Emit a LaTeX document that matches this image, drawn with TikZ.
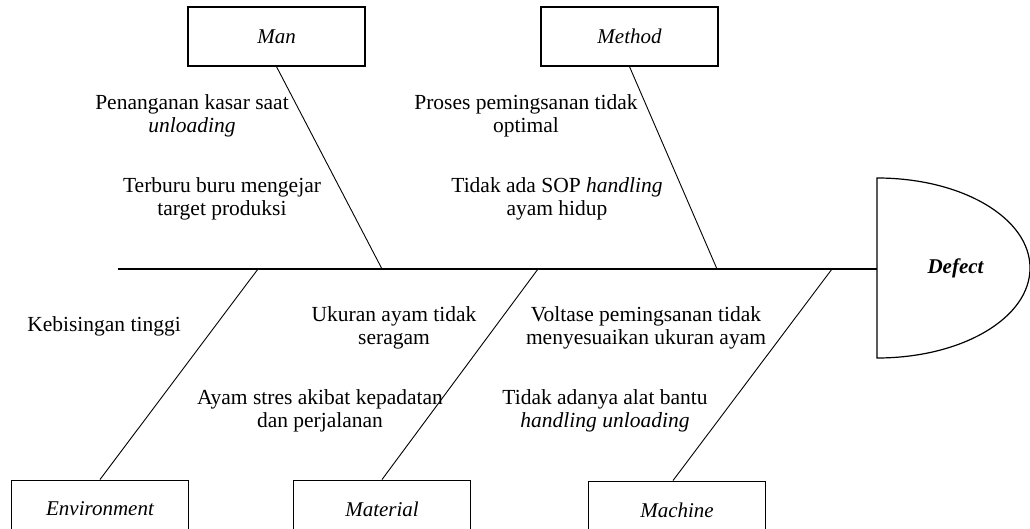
\documentclass[tikz,border=0pt]{standalone}
\usepackage{fontspec}
\setmainfont{Liberation Serif}
\begin{document}
\begin{tikzpicture}[x=1pt,y=-1pt,
  txt/.style={font=\fontsize{21.5}{22.5}\selectfont, align=center, inner sep=0pt},
  topbox/.style={draw, line width=1.3pt, minimum width=177pt, minimum height=59pt, font=\fontsize{21}{22}\selectfont\itshape, inner sep=0pt},
  botbox/.style={draw, line width=0.9pt, minimum width=177pt, minimum height=58pt, font=\fontsize{21}{22}\selectfont\itshape, inner sep=0pt},
  bone/.style={line width=0.9pt},
  spine/.style={line width=1.4pt}]
\useasboundingbox (0,0) rectangle (1030,529);
\clip (0,0) rectangle (1030,529);
% boxes
\node[topbox] (man) at (276.5,36.5) {Man};
\node[topbox] (method) at (629.5,36.5) {Method};
\node[botbox] (env) at (100,509) {Environment};
\node[botbox] (mat) at (382,509) {Material};
\node[botbox] (mach) at (677,510) {Machine};
% spine
\coordinate (tail) at (118,269);
\coordinate (dleft) at (877,269);
\draw[spine] (tail) -- (dleft);
% defect head
\draw[line width=1.2pt] (877,178) .. controls (962,178) and (1030,218) .. (1030,268)
  .. controls (1030,318) and (962,358) .. (877,358) -- cycle;
\node[font=\fontsize{21}{24}\selectfont\bfseries\itshape] (defect) at (955.5,268) {Defect};
% bone joints
\coordinate (jman) at (382,269);
\coordinate (jmet) at (717,269);
\coordinate (jenv) at (258,269);
\coordinate (jmat) at (538,269);
\coordinate (jmac) at (832,269);
\draw[bone] (man.south) -- (jman);
\draw[bone] (method.south) -- (jmet);
\draw[bone] (jenv) -- (env.north);
\draw[bone] (jmat) -- (mat.north);
\draw[bone] (jmac) -- (mach.north -| 673,0);
% causes
\node[txt] (c1) at (192,116) {Penanganan kasar saat\\\textit{unloading}};
\node[txt] (c2) at (222,199) {Terburu buru mengejar\\target produksi};
\node[txt] (c3) at (526,116) {Proses pemingsanan tidak\\optimal};
\node[txt] (c4) at (557,199) {Tidak ada SOP \textit{handling}\\ayam hidup};
\node[txt] (c5) at (104,326) {Kebisingan tinggi};
\node[txt] (c6) at (394,328) {Ukuran ayam tidak\\seragam};
\node[txt] (c7) at (320,411) {Ayam stres akibat kepadatan\\dan perjalanan};
\node[txt] (c8) at (646,328) {Voltase pemingsanan tidak\\menyesuaikan ukuran ayam};
\node[txt] (c9) at (605,411) {Tidak adanya alat bantu\\\textit{handling unloading}};
\end{tikzpicture}
\end{document}
